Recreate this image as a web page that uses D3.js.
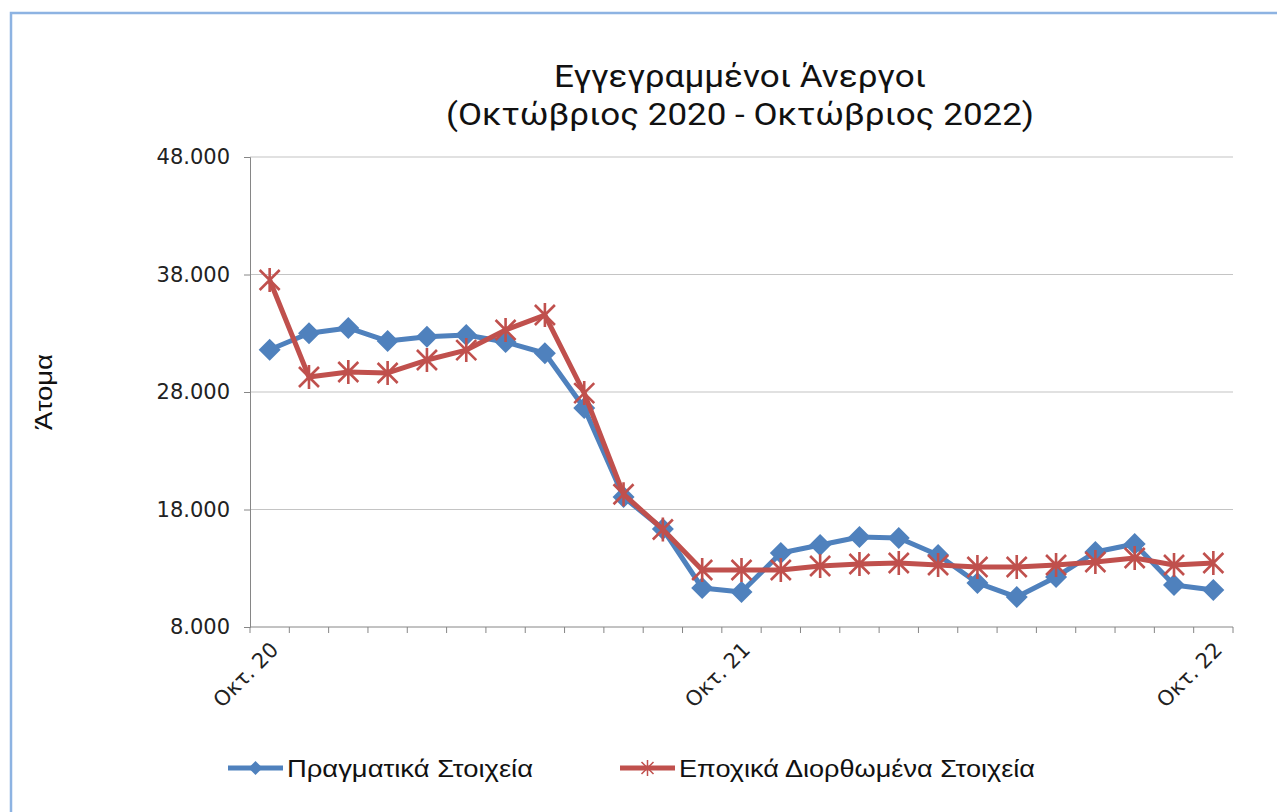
<!DOCTYPE html>
<html>
<head>
<meta charset="utf-8">
<script src="https://cdn.jsdelivr.net/npm/d3@7"></script>
<style>
  body { margin: 0; background: #fff; }
</style>
</head>
<body>
<div id="chart"></div>
<script>
// 25 months, Oct 2020 - Oct 2022
const months = d3.range(25);
const tickLabels = { 0: "Οκτ. 20", 12: "Οκτ. 21", 24: "Οκτ. 22" };
const yTicks = [8000, 18000, 28000, 38000, 48000];

const actual = [31600, 33000, 33450, 32340, 32700, 32850, 32250, 31300, 26640, 19060,
  16340, 11320, 10980, 14300, 14980, 15660, 15570, 14130, 11750, 10550,
  12260, 14380, 15060, 11570, 11150];
const adjusted = [37530, 29280, 29700, 29620, 30720, 31570, 33280, 34550, 27910, 19300,
  16300, 12850, 12850, 12850, 13190, 13360, 13450, 13280, 13110, 13110,
  13280, 13530, 13870, 13280, 13450];

const seriesNames = ["Πραγματικά Στοιχεία", "Εποχικά Διορθωμένα Στοιχεία"];
const titleLines = ["Εγγεγραμμένοι Άνεργοι", "(Οκτώβριος 2020 - Οκτώβριος 2022)"];
const BLUE = "#4f81bd";
const RED = "#c0504d";

const width = 1277, height = 812;
const margin = { top: 157, right: 44, bottom: 185, left: 250 };

const svg = d3.select("#chart").append("svg")
  .attr("width", width)
  .attr("height", height);

// outer frame (only top and left visible)
svg.append("path")
  .attr("d", `M11,${height} L11,13 L${width},13`)
  .attr("fill", "none")
  .attr("stroke", "#8db3e2")
  .attr("stroke-width", 2.5);

const x = d3.scaleBand()
  .domain(months)
  .range([margin.left, width - margin.right]);

const y = d3.scaleLinear()
  .domain([8000, 48000])
  .range([height - margin.bottom, margin.top]);

// gridlines
svg.append("g")
  .selectAll("line")
  .data(yTicks.slice(1))
  .enter()
  .append("line")
  .attr("x1", margin.left)
  .attr("x2", width - margin.right)
  .attr("y1", (d) => y(d))
  .attr("y2", (d) => y(d))
  .attr("stroke", "#c4c4c4")
  .attr("stroke-width", 1.2);

const fmt = (d) => d3.format(",")(d).replace(",", ".");

// y axis
const yAxis = svg.append("g")
  .attr("transform", `translate(${margin.left},0)`)
  .call(d3.axisLeft(y).tickValues(yTicks).tickFormat(fmt).tickSize(6).tickPadding(14));
yAxis.select(".domain").attr("stroke", "#868686");
yAxis.selectAll(".tick line").attr("stroke", "#868686");
yAxis.selectAll("text")
  .attr("font-family", "DejaVu Sans, Verdana, sans-serif")
  .attr("font-size", 21)
  .attr("fill", "#222");

// x axis: ticks at category boundaries
const xAxisG = svg.append("g")
  .attr("transform", `translate(0,${y(8000)})`);
xAxisG.append("line")
  .attr("x1", margin.left)
  .attr("x2", width - margin.right)
  .attr("stroke", "#868686");
xAxisG.selectAll(".bt")
  .data(d3.range(26))
  .enter()
  .append("line")
  .attr("class", "bt")
  .attr("x1", (d) => margin.left + d * x.bandwidth())
  .attr("x2", (d) => margin.left + d * x.bandwidth())
  .attr("y1", 0)
  .attr("y2", 6)
  .attr("stroke", "#868686");
xAxisG.selectAll(".lbl")
  .data(Object.keys(tickLabels).map(Number))
  .enter()
  .append("text")
  .attr("class", "lbl")
  .attr("transform", (d) => `translate(${x(d) + x.bandwidth() / 2 + 10},24) rotate(-45)`)
  .attr("text-anchor", "end")
  .attr("font-family", "DejaVu Sans, Verdana, sans-serif")
  .attr("font-size", 21)
  .attr("fill", "#222")
  .text((d) => tickLabels[d]);

const cx = (i) => x(i) + x.bandwidth() / 2;

const line = d3.line()
  .x((d, i) => cx(i))
  .y((d) => y(d));

// blue series
svg.append("path")
  .datum(actual)
  .attr("d", line)
  .attr("fill", "none")
  .attr("stroke", BLUE)
  .attr("stroke-width", 5)
  .attr("stroke-linejoin", "round");

const diamond = "M0,-11 L11,0 L0,11 L-11,0 Z";
svg.append("g")
  .selectAll("path")
  .data(actual)
  .enter()
  .append("path")
  .attr("d", diamond)
  .attr("transform", (d, i) => `translate(${cx(i)},${y(d)})`)
  .attr("fill", BLUE);

// red series
svg.append("path")
  .datum(adjusted)
  .attr("d", line)
  .attr("fill", "none")
  .attr("stroke", RED)
  .attr("stroke-width", 5)
  .attr("stroke-linejoin", "round");

const star = "M-10,-10 L10,10 M-10,10 L10,-10 M0,-12 L0,12";
svg.append("g")
  .selectAll("path")
  .data(adjusted)
  .enter()
  .append("path")
  .attr("d", star)
  .attr("transform", (d, i) => `translate(${cx(i)},${y(d)})`)
  .attr("fill", "none")
  .attr("stroke", RED)
  .attr("stroke-width", 2.6);

// title (two separate lines)
const titleLens = [372, 588];
svg.selectAll(".title")
  .data(titleLines)
  .enter()
  .append("text")
  .attr("class", "title")
  .attr("x", 740)
  .attr("y", (d, i) => 87 + i * 38)
  .attr("text-anchor", "middle")
  .attr("font-family", "Roboto, Noto Sans, sans-serif")
  .attr("font-size", 31)
  .attr("textLength", (d, i) => titleLens[i])
  .attr("lengthAdjust", "spacingAndGlyphs")
  .attr("fill", "#111")
  .text((d) => d);

// y axis title
svg.append("text")
  .attr("transform", "translate(52,392) rotate(-90)")
  .attr("text-anchor", "middle")
  .attr("font-family", "Liberation Sans, Arial, sans-serif")
  .attr("font-size", 24)
  .attr("textLength", 76)
  .attr("lengthAdjust", "spacingAndGlyphs")
  .attr("fill", "#111")
  .text("Άτομα");

// legend
const legendItems = [
  { name: seriesNames[0], color: BLUE, x: 228, marker: "diamond", len: 246 },
  { name: seriesNames[1], color: RED, x: 620, marker: "star", len: 356 }
];
const legend = svg.append("g").attr("transform", "translate(0,768)");
legendItems.forEach((d) => {
  const g = legend.append("g").attr("transform", `translate(${d.x},0)`);
  g.append("line")
    .attr("x1", 0).attr("x2", 55)
    .attr("stroke", d.color)
    .attr("stroke-width", 5);
  if (d.marker === "diamond") {
    g.append("path").attr("d", "M0,-7 L7,0 L0,7 L-7,0 Z")
      .attr("transform", "translate(27.5,0)")
      .attr("fill", d.color);
  } else {
    g.append("path").attr("d", "M-6,-6 L6,6 M-6,6 L6,-6 M0,-8 L0,8")
      .attr("transform", "translate(27.5,0)")
      .attr("stroke", d.color)
      .attr("stroke-width", 1.5);
  }
  g.append("text")
    .attr("x", 59)
    .attr("y", 9)
    .attr("font-family", "Liberation Sans, Arial, sans-serif")
    .attr("font-size", 24)
    .attr("textLength", d.len)
    .attr("lengthAdjust", "spacingAndGlyphs")
    .attr("fill", "#111")
    .text(d.name);
});
</script>
</body>
</html>
